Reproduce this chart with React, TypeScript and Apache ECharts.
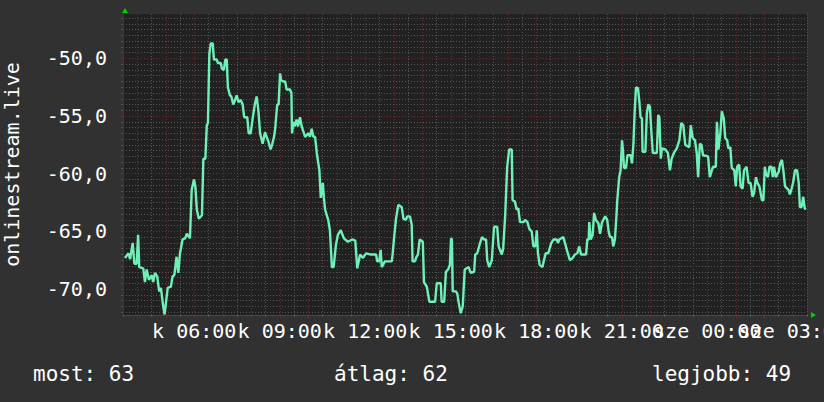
import React, { useEffect, useRef } from "react";
import * as echarts from "echarts";

// time of day in hours (24+ = next day), and signal values
const hours = [
  3.57, 3.69, 3.75, 3.84, 3.9, 3.98, 4.03, 4.07, 4.21, 4.27, 4.33, 4.41, 4.51, 4.56, 4.62, 4.7, 4.77, 4.83, 4.91, 4.96,
  5.03, 5.07, 5.18, 5.24, 5.3, 5.38, 5.44, 5.5, 5.59, 5.68, 5.74, 5.85, 5.91, 5.99, 6.04, 6.09, 6.16, 6.27, 6.32, 6.39,
  6.44, 6.48, 6.53, 6.58, 6.65, 6.69, 6.79, 6.83, 6.93, 6.97, 7.04, 7.09, 7.14, 7.18, 7.25, 7.3, 7.37, 7.43, 7.49, 7.55,
  7.63, 7.7, 7.75, 7.86, 7.91, 7.98, 8.05, 8.13, 8.19, 8.25, 8.31, 8.4, 8.48, 8.54, 8.6, 8.68, 8.73, 8.8, 8.84, 8.91,
  8.96, 9.01, 9.05, 9.12, 9.19, 9.24, 9.36, 9.41, 9.43, 9.48, 9.52, 9.59, 9.64, 9.71, 9.77, 9.89, 10.0, 10.06, 10.12, 10.18,
  10.24, 10.3, 10.39, 10.44, 10.51, 10.55, 10.59, 10.7, 10.76, 10.83, 10.89, 10.97, 11.04, 11.14, 11.25, 11.39, 11.54, 11.65, 11.72, 11.82,
  11.92, 12.03, 12.17, 12.38, 12.42, 12.49, 12.54, 12.58, 12.69, 12.93, 12.96, 13.01, 13.08, 13.16, 13.28, 13.34, 13.42, 13.48, 13.57, 13.63,
  13.66, 13.74, 13.8, 13.85, 13.91, 14.02, 14.06, 14.16, 14.25, 14.45, 14.51, 14.65, 14.68, 14.77, 14.83, 14.91, 14.97, 15.01, 15.04, 15.07,
  15.18, 15.23, 15.28, 15.35, 15.42, 15.49, 15.56, 15.63, 15.7, 15.82, 15.86, 15.93, 16.03, 16.1, 16.17, 16.24, 16.28, 16.35, 16.44, 16.52,
  16.63, 16.68, 16.79, 16.84, 16.91, 16.98, 17.05, 17.14, 17.17, 17.25, 17.31, 17.37, 17.43, 17.55, 17.61, 17.69, 17.76, 17.84, 17.9, 17.97,
  18.02, 18.06, 18.12, 18.22, 18.26, 18.33, 18.42, 18.53, 18.61, 18.72, 18.76, 18.81, 18.88, 18.95, 19.04, 19.12, 19.18, 19.28, 19.36, 19.44,
  19.51, 19.57, 19.75, 19.79, 19.84, 19.86, 19.91, 19.98, 20.03, 20.09, 20.18, 20.24, 20.3, 20.35, 20.42, 20.49, 20.54, 20.59, 20.66, 20.7,
  20.76, 20.82, 20.84, 20.91, 20.96, 21.01, 21.04, 21.08, 21.15, 21.2, 21.31, 21.36, 21.41, 21.45, 21.5, 21.57, 21.62, 21.66, 21.71, 21.73,
  21.83, 21.88, 21.93, 21.99, 22.04, 22.09, 22.23, 22.28, 22.32, 22.37, 22.41, 22.53, 22.62, 22.69, 22.75, 22.83, 22.93, 23.02, 23.09, 23.16,
  23.23, 23.37, 23.42, 23.49, 23.57, 23.63, 23.68, 23.74, 23.8, 23.85, 24.03, 24.09, 24.2, 24.3, 24.34, 24.39, 24.46, 24.51, 24.58, 24.63,
  24.7, 24.74, 24.81, 24.86, 24.95, 25.0, 25.05, 25.12, 25.17, 25.24, 25.29, 25.38, 25.45, 25.52, 25.59, 25.64, 25.71, 25.76, 25.83, 25.92,
  25.97, 26.02, 26.06, 26.13, 26.18, 26.25, 26.3, 26.34, 26.41, 26.51, 26.56, 26.62, 26.67, 26.73, 26.85, 26.9, 26.96, 27.01, 27.08, 27.15,
  27.21, 27.25, 27.31, 27.37, 27.42, 27.46,
];
const values = [
  -67.3, -66.9, -67.4, -66.0, -67.8, -67.8, -65.3, -68.1, -68.2, -69.4, -68.3, -69.2, -68.8, -69.4, -68.6, -68.9, -70.2, -69.9, -71.5, -72.2,
  -70.7, -69.9, -69.8, -68.9, -68.8, -67.2, -68.6, -66.9, -65.7, -65.6, -65.2, -65.6, -61.4, -60.5, -61.1, -63.1, -63.9, -63.6, -58.7, -58.7,
  -55.8, -55.6, -49.6, -48.7, -48.7, -50.1, -50.1, -50.4, -50.4, -50.9, -51.0, -50.1, -50.1, -52.5, -53.2, -53.3, -54.0, -53.6, -53.2, -53.8,
  -53.6, -54.0, -55.1, -55.1, -56.5, -56.5, -55.2, -53.9, -53.3, -54.5, -56.5, -57.4, -56.4, -56.8, -57.2, -57.9, -57.5, -56.8, -56.1, -54.0,
  -54.0, -51.3, -51.9, -52.0, -52.0, -52.7, -52.7, -53.0, -56.5, -55.5, -55.9, -55.3, -55.9, -55.1, -55.9, -56.8, -56.5, -56.8, -56.1, -56.8,
  -56.8, -58.2, -59.7, -62.1, -60.8, -62.1, -63.1, -64.0, -64.9, -68.1, -68.1, -66.2, -65.3, -64.9, -65.6, -65.9, -65.7, -65.8, -68.2, -67.0,
  -67.3, -66.9, -67.0, -67.0, -67.6, -67.6, -66.6, -68.1, -67.6, -67.6, -67.0, -65.6, -63.9, -62.7, -62.9, -63.9, -64.0, -63.7, -63.7, -64.4,
  -67.6, -67.6, -67.2, -67.0, -65.7, -65.9, -69.4, -69.8, -71.1, -71.1, -69.5, -69.5, -71.1, -71.1, -68.5, -68.3, -67.9, -65.6, -65.7, -70.2,
  -70.2, -70.4, -71.2, -72.1, -71.5, -68.3, -68.2, -68.1, -68.6, -68.5, -67.0, -66.9, -66.0, -65.5, -65.7, -65.7, -67.5, -68.1, -67.5, -64.6,
  -64.6, -66.3, -67.0, -66.5, -63.6, -59.4, -57.9, -57.9, -62.3, -62.4, -63.1, -63.0, -64.2, -64.2, -64.0, -64.2, -64.8, -65.0, -66.3, -66.3,
  -64.9, -66.9, -67.9, -68.1, -67.6, -66.9, -66.9, -66.0, -65.7, -65.7, -66.0, -65.7, -65.6, -65.5, -66.3, -67.0, -67.5, -67.3, -67.0, -66.9,
  -66.3, -67.0, -67.0, -65.7, -65.7, -64.2, -65.7, -65.3, -63.4, -64.0, -64.3, -65.2, -64.3, -64.0, -63.7, -64.0, -65.0, -65.5, -65.5, -66.3,
  -65.7, -63.4, -62.4, -60.3, -59.7, -57.1, -57.9, -59.5, -59.5, -58.4, -58.4, -59.1, -57.4, -54.8, -52.5, -52.6, -53.8, -55.1, -55.2, -58.1,
  -58.1, -54.8, -54.0, -54.2, -56.4, -58.2, -58.2, -54.9, -55.1, -58.7, -57.8, -57.9, -58.2, -59.7, -58.7, -58.2, -57.8, -57.1, -55.6, -55.8,
  -57.5, -57.7, -55.8, -56.9, -57.1, -58.2, -60.3, -57.4, -57.5, -58.4, -58.5, -60.3, -59.4, -59.4, -55.5, -57.9, -56.5, -54.6, -55.2, -56.9,
  -57.1, -57.8, -57.7, -59.5, -59.7, -61.1, -59.4, -59.2, -61.1, -61.3, -59.7, -59.4, -60.8, -60.8, -62.0, -61.7, -60.3, -60.8, -61.1, -62.3,
  -62.3, -59.4, -60.0, -60.3, -59.4, -59.4, -60.3, -59.4, -60.3, -59.8, -59.1, -58.8, -59.7, -61.1, -61.4, -61.8, -61.3, -60.8, -59.7, -59.7,
  -60.8, -62.9, -62.9, -62.0, -63.0, -63.1,
];

// x labels split over two axes so none of them is dropped as overlapping
const xLabelHoursA = [6, 12, 18, 24];
const xLabelHoursB = [9, 15, 21, 27];
const xLabelHours = [6, 9, 12, 15, 18, 21, 24, 27];
const xLabelTexts = ["k 06:00", "k 09:00", "k 12:00", "k 15:00", "k 18:00", "k 21:00", "sze 00:00", "sze 03:00"];
const yLabelValues = [-70, -65, -60, -55, -50];
const summaryTexts = ["most: 63", "átlag: 62", "legjobb: 49"];
const yTitle = "onlinestream.live";

const X_MIN = 3.5;
const X_MAX = 27.5;
const Y_MIN = -72.25;
const Y_MAX = -46.15;

const FONT = "DejaVu Sans Mono";

export default function App() {
  const ref = useRef<HTMLDivElement>(null);
  useEffect(() => {
    if (!ref.current) return;
    const chart = echarts.init(ref.current, undefined, { renderer: "svg" });

    const majorX: number[] = [];
    for (let h = Math.ceil(X_MIN); h <= X_MAX; h += 1) majorX.push(h);
    const minorX: number[] = [];
    for (let h = X_MIN; h <= X_MAX + 1e-9; h += 1) minorX.push(h);
    const minorY: number[] = [];
    for (let v = -72; v <= -46.5 + 1e-9; v += 0.5) if (v % 5 !== 0) minorY.push(v);

    const gray = "#555555";
    const red = "#6e2c2c";
    const fmtX = (v: number) => xLabelTexts[xLabelHours.indexOf(Math.round(v))] ?? "";
    const labelBase = {
      showMinLabel: true,
      showMaxLabel: true,
      hideOverlap: false,
      margin: 6,
      color: "#ffffff",
      fontFamily: FONT,
      fontSize: 20,
      formatter: fmtX,
    };

    chart.setOption({
      animation: false,
      backgroundColor: "#313131",
      grid: {
        left: 123,
        top: 14,
        width: 684,
        height: 301,
        show: true,
        backgroundColor: "#212121",
        borderWidth: 0,
        containLabel: false,
        outerBoundsMode: "none",
      },
      xAxis: [
        {
          type: "value",
          min: X_MIN,
          max: X_MAX,
          position: "bottom",
          axisLine: { show: true, lineStyle: { color: "#484848", width: 1 } },
          axisTick: { show: true, length: 3, customValues: majorX, lineStyle: { color: red } },
          splitLine: { show: true, lineStyle: { color: red, type: [1, 2], width: 1 } },
          axisLabel: { ...labelBase, customValues: xLabelHoursA },
        },
        {
          type: "value",
          min: X_MIN,
          max: X_MAX,
          position: "bottom",
          axisLine: { show: false },
          axisTick: { show: true, length: 2, customValues: minorX, lineStyle: { color: gray } },
          splitLine: { show: true, lineStyle: { color: gray, type: [1, 2], width: 1 } },
          axisLabel: { ...labelBase, customValues: xLabelHoursB },
        },
      ],
      yAxis: [
        {
          type: "value",
          min: Y_MIN,
          max: Y_MAX,
          position: "left",
          name: yTitle,
          nameLocation: "middle",
          nameGap: 101,
          nameRotate: 90,
          nameTextStyle: { color: "#ffffff", fontFamily: FONT, fontSize: 20 },
          axisLine: { show: true, lineStyle: { color: "#3a3a3a" } },
          axisTick: { show: true, length: 2, customValues: yLabelValues, lineStyle: { color: red } },
          splitLine: { show: true, lineStyle: { color: red, type: [1, 2], width: 1 } },
          axisLabel: {
            customValues: yLabelValues,
            margin: 16,
            color: "#ffffff",
            fontFamily: FONT,
            fontSize: 20,
            formatter: (v: number) => v.toFixed(1).replace(".", ","),
          },
        },
        {
          type: "value",
          min: Y_MIN,
          max: Y_MAX,
          position: "left",
          axisLine: { show: false },
          axisTick: { show: true, length: 2, customValues: minorY, lineStyle: { color: gray } },
          splitLine: { show: true, lineStyle: { color: gray, type: [1, 2], width: 1 } },
          axisLabel: { show: false },
        },
      ],
      series: [
        {
          type: "line",
          xAxisIndex: 0,
          yAxisIndex: 0,
          data: hours.map((h, i) => [h, values[i]]),
          showSymbol: false,
          symbol: "none",
          lineStyle: { color: "#6ff0b6", width: 2.4 },
          z: 5,
        },
      ],
      graphic: [
        { type: "polygon", shape: { points: [[122, 13], [128, 13], [125, 8]] }, style: { fill: "#00d000" } },
        { type: "polygon", shape: { points: [[811, 312], [811, 318], [816, 315]] }, style: { fill: "#00d000" } },
        {
          type: "text",
          x: 33,
          y: 374,
          style: { text: summaryTexts[0], fill: "#ffffff", font: `21px "${FONT}"`, verticalAlign: "middle" },
        },
        {
          type: "text",
          x: 334,
          y: 374,
          style: { text: summaryTexts[1], fill: "#ffffff", font: `21px "${FONT}"`, verticalAlign: "middle" },
        },
        {
          type: "text",
          x: 652,
          y: 374,
          style: { text: summaryTexts[2], fill: "#ffffff", font: `21px "${FONT}"`, verticalAlign: "middle" },
        },
      ],
    });
    return () => chart.dispose();
  }, []);
  return <div ref={ref} style={{ position: "fixed", left: 0, top: 0, width: 824, height: 402 }} />;
}
